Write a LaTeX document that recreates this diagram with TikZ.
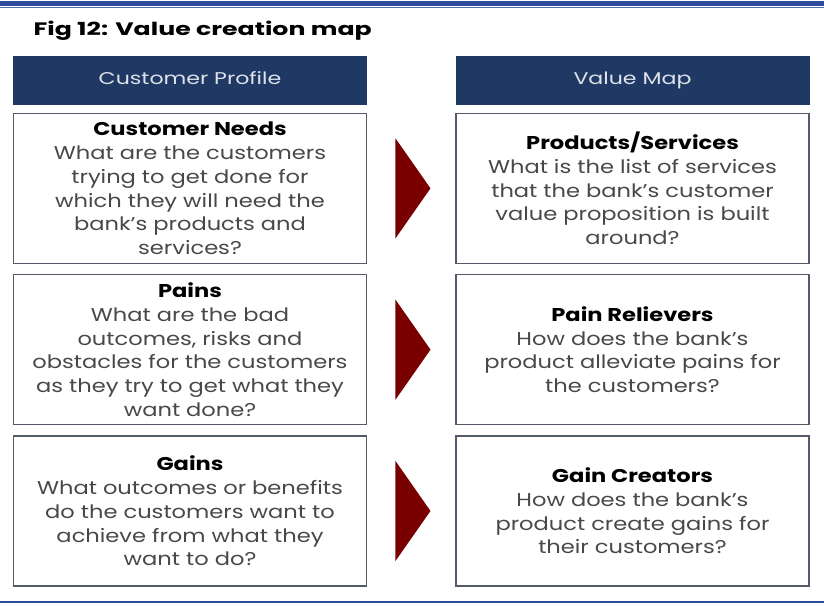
\documentclass[tikz,border=0pt]{standalone}
\usepackage{fontspec}
\setmainfont{Poppins}[FakeStretch=1.22]
\newfontfamily\titlefont{Poppins}[FakeStretch=1.4]
\newfontfamily\headfont{Poppins}[FakeStretch=1.3]
\usetikzlibrary{calc,positioning,shapes.geometric}
\definecolor{navy}{RGB}{32,56,100}
\definecolor{ruleblue}{RGB}{46,74,154}
\definecolor{frame}{RGB}{85,90,105}
\definecolor{bodygray}{RGB}{72,72,72}
\definecolor{pointred}{RGB}{122,0,0}
\definecolor{headtext}{RGB}{222,226,234}
\newcommand{\cardtitle}[1]{{\bfseries\color{black}#1}\\}
\tikzset{
  headbox/.style={fill=navy,minimum width=354pt,minimum height=49pt,inner sep=0pt,text height=12pt,text depth=3pt,text=headtext,font=\headfont\fontsize{17}{20}\selectfont},
  card/.style={draw=frame,line width=1.3pt,fill=white,minimum width=353pt,minimum height=150pt,align=center,inner sep=2pt,text=bodygray,font=\fontsize{18.5}{23.8}\selectfont},
  pointer/.style={isosceles triangle,isosceles triangle stretches,shape border rotate=0,fill=pointred,minimum width=100pt,minimum height=35pt,inner sep=0pt}
}

\begin{document}
\begin{tikzpicture}[x=1pt,y=-1pt]
  \useasboundingbox (0,0) rectangle (824,605);
  % page rules
  \fill[ruleblue] (0,1) rectangle (824,5.5);
  \draw[ruleblue!80,line width=1pt] (0,7.5) -- (824,7.5);
  \draw[ruleblue,line width=1.2pt] (0,602) -- (824,602);
  \node[anchor=base west,font=\titlefont\bfseries\fontsize{18}{21}\selectfont] (title) at (30,35) {Fig 12: Value creation map};
  % column headers
  \node[headbox] (profile) at (190,80) {Customer Profile};
  \node[headbox] (valuemap) at (632.5,80) {Value Map};
  % customer profile
  \node[card,below=8pt of profile] (needs) {\cardtitle{Customer Needs}What are the customers\\trying to get done for\\which they will need the\\bank's products and\\services?};
  \node[card,below=10pt of needs] (pains) {\cardtitle{Pains}What are the bad\\outcomes, risks and\\obstacles for the customers\\as they try to get what they\\want done?};
  \node[card,below=10pt of pains] (gains) {\cardtitle{Gains}What outcomes or benefits\\do the customers want to\\achieve from what they\\want to do?};
  % value map
  \node[card,below=8pt of valuemap] (products) {\cardtitle{Products/Services}What is the list of services\\that the bank's customer\\value proposition is built\\around?};
  \node[card,below=10pt of products] (relievers) {\cardtitle{Pain Relievers}How does the bank's\\product alleviate pains for\\the customers?};
  \node[card,below=10pt of relievers] (creators) {\cardtitle{Gain Creators}How does the bank's\\product create gains for\\their customers?};
  % pointers
  \node[pointer] (p1) at ($(needs.east)!0.5!(products.west)$) {};
  \node[pointer] (p2) at ($(pains.east)!0.5!(relievers.west)$) {};
  \node[pointer] (p3) at ($(gains.east)!0.5!(creators.west)$) {};
\end{tikzpicture}
\end{document}
